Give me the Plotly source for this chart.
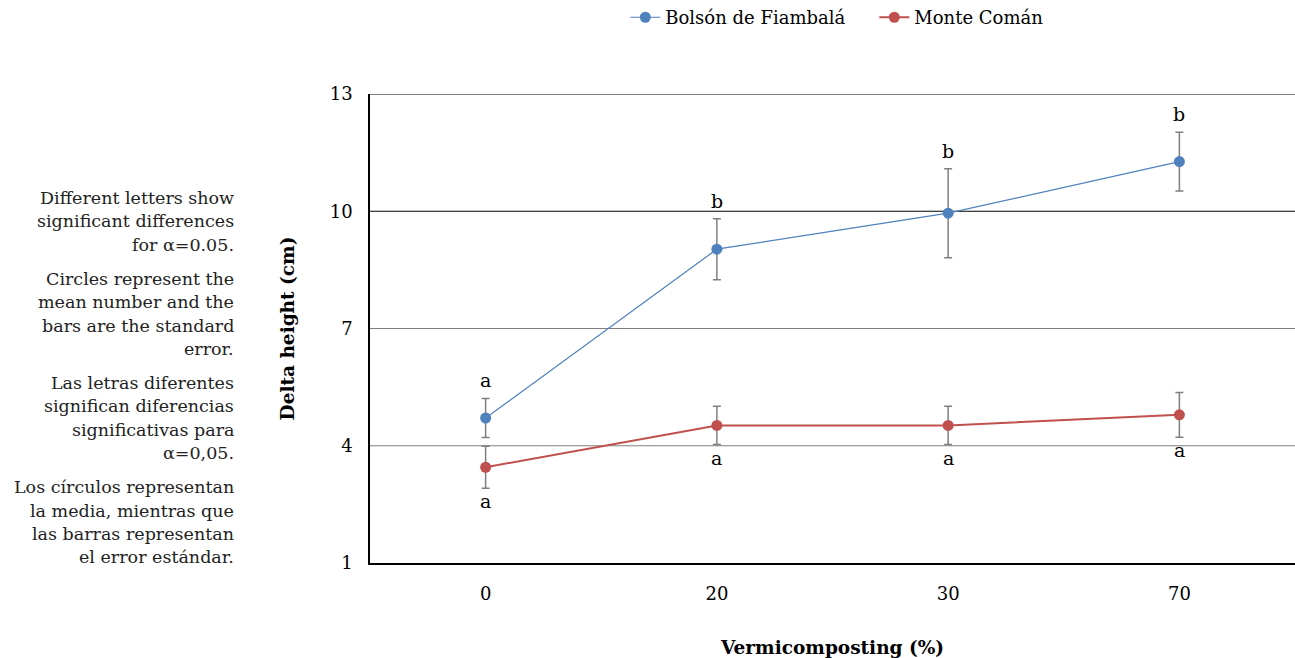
import plotly.graph_objects as go

# ---- data ----
categories = ["0", "20", "30", "70"]
fiambala_mean = [4.71, 9.03, 9.95, 11.27]
fiambala_se = [0.50, 0.78, 1.14, 0.75]
fiambala_letters = ["a", "b", "b", "b"]
coman_mean = [3.45, 4.52, 4.52, 4.79]
coman_se = [0.54, 0.49, 0.49, 0.57]
coman_letters = ["a", "a", "a", "a"]
y_ticks = [1, 4, 7, 10, 13]
grid_colors = {13: "#000000", 10: "#000000", 7: "#7f7f7f", 4: "#7f7f7f"}

note_paragraphs = [
    ["Different letters show", "significant differences", "for α=0.05."],
    ["Circles represent the", "mean number and the", "bars are the standard", "error."],
    ["Las letras diferentes", "significan diferencias", "significativas para", "α=0,05."],
    ["Los círculos representan", "la media, mientras que", "las barras representan", "el error estándar."],
]

FONT = "DejaVu Serif"
BLUE = "#4F81BD"
RED = "#C0504D"
ERR = "#7f7f7f"

fig = go.Figure()
fig.add_trace(go.Scatter(
    x=categories, y=fiambala_mean, name="Bolsón de Fiambalá", mode="lines+markers",
    line=dict(color=BLUE, width=1.2), marker=dict(color=BLUE, size=11),
    error_y=dict(type="data", array=fiambala_se, visible=True, color=ERR, thickness=1.5, width=4),
))
fig.add_trace(go.Scatter(
    x=categories, y=coman_mean, name="Monte Comán", mode="lines+markers",
    line=dict(color=RED, width=2), marker=dict(color=RED, size=11),
    error_y=dict(type="data", array=coman_se, visible=True, color=ERR, thickness=1.5, width=4),
))

annotations = []
for i, (m, s, l) in enumerate(zip(fiambala_mean, fiambala_se, fiambala_letters)):
    annotations.append(dict(x=i, y=m + s, text=l, showarrow=False, yanchor="bottom", yshift=5,
                            font=dict(family=FONT, size=19, color="black")))
for i, (m, s, l) in enumerate(zip(coman_mean, coman_se, coman_letters)):
    annotations.append(dict(x=i, y=m - s, text=l, showarrow=False, yanchor="top", yshift=0,
                            font=dict(family=FONT, size=19, color="black")))

# side notes (right-aligned text block left of the plot), positions in window pixels
plot_top, plot_bottom = 94, 563
ypx = 198
for para in note_paragraphs:
    for line in para:
        annotations.append(dict(xref="paper", yref="paper", x=-0.145,
                                y=(plot_bottom - ypx) / (plot_bottom - plot_top),
                                text=line, showarrow=False, xanchor="right", yanchor="middle",
                                font=dict(family=FONT, size=17.5, color="#222222")))
        ypx += 23.3
    ypx += 11

shapes = []
for v in y_ticks[1:]:
    shapes.append(dict(type="line", xref="paper", yref="y", x0=0, x1=1, y0=v, y1=v,
                       line=dict(color=grid_colors[v], width=1.2), layer="below"))

fig.update_layout(
    width=1295, height=658,
    margin=dict(l=370, r=0, t=94, b=95, autoexpand=False),
    paper_bgcolor="white", plot_bgcolor="white",
    font=dict(family=FONT, size=18, color="black"),
    showlegend=True,
    legend=dict(orientation="h", xref="paper", yref="paper", x=0.276, xanchor="left",
                y=1.163, yanchor="middle", font=dict(family=FONT, size=18, color="black"),
                itemwidth=30, entrywidth=204, bgcolor="rgba(0,0,0,0)"),
    annotations=annotations,
    shapes=shapes,
)
fig.update_xaxes(
    type="category", categoryorder="array", categoryarray=categories,
    range=[-0.5, 3.5], showgrid=False, zeroline=False, automargin=False,
    showline=True, linecolor="black", linewidth=2,
    ticks="outside", ticklen=13, tickcolor="rgba(0,0,0,0)",
    tickfont=dict(family=FONT, size=18, color="black"),
    title=dict(text="<b>Vermicomposting (%)</b>", standoff=39,
               font=dict(family=FONT, size=18.5, color="black")),
)
fig.update_yaxes(
    range=[1, 13], tickvals=y_ticks, showgrid=False, zeroline=False, automargin=False,
    showline=True, linecolor="black", linewidth=1.5,
    ticks="outside", ticklen=12, tickcolor="rgba(0,0,0,0)",
    tickfont=dict(family=FONT, size=18, color="black"),
    title=dict(text="<b>Delta height (cm)</b>", standoff=30,
               font=dict(family=FONT, size=18.5, color="black")),
)

fig.write_html("out.html", config={"displayModeBar": False},
               post_script="document.body.style.margin='0px';document.body.style.overflow='hidden';")
